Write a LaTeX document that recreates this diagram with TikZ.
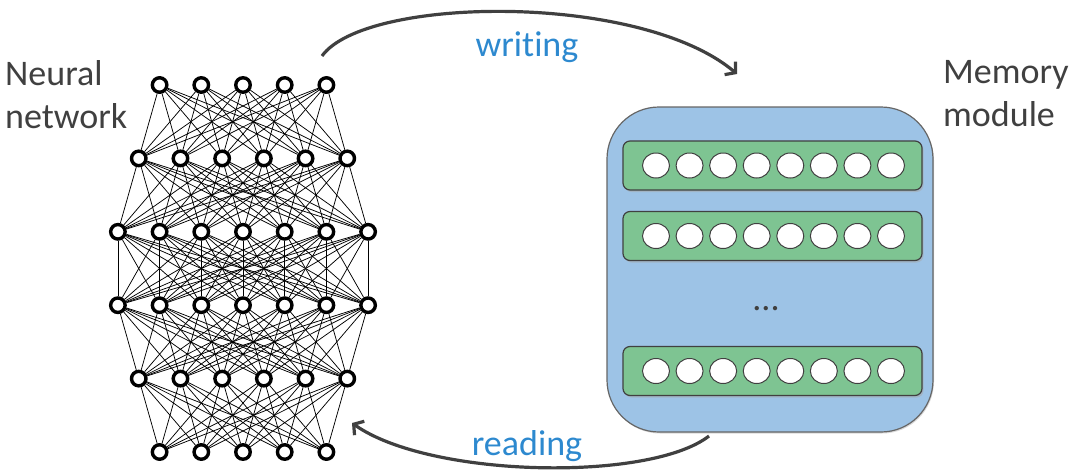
\documentclass[tikz,border=0pt]{standalone}
\usepackage{fontspec}
\setmainfont{Carlito}[Ligatures=NoCommon]
\usetikzlibrary{arrows.meta,shadows,shapes.geometric,positioning}
\definecolor{txtgray}{RGB}{64,64,64}
\definecolor{linkblue}{RGB}{45,137,207}
\definecolor{memblue}{RGB}{157,195,230}
\definecolor{slotgreen}{RGB}{126,196,146}
\tikzset{>={Straight Barb[length=7pt,width=17pt]}}
\tikzset{
    neuron/.style={circle,draw=black,line width=3.4pt,fill=white,minimum size=14.5pt,inner sep=0pt},
    synapse/.style={black,line width=0.75pt},
    membox/.style={rectangle,rounded corners=52pt,draw=txtgray!80,fill=memblue,line width=1.2pt,
        drop shadow={shadow xshift=1pt,shadow yshift=-1.5pt,fill=black!30}},
    slot/.style={rectangle,rounded corners=7pt,draw=txtgray,fill=slotgreen,line width=1.2pt,
        minimum width=299pt,minimum height=49pt,
        drop shadow={shadow xshift=1.5pt,shadow yshift=-2pt,fill=black!35}},
    cell/.style={ellipse,draw=txtgray,fill=white,line width=1pt,minimum width=27pt,minimum height=25pt,inner sep=0pt},
    caption/.style={text=txtgray,font=\fontsize{36}{43}\selectfont,align=left,inner sep=0pt},
    verb/.style={text=linkblue,font=\fontsize{36}{43}\selectfont,inner sep=0pt},
    flow/.style={draw=txtgray,line width=3.2pt}
}

\begin{document}
\begin{tikzpicture}[x=1pt,y=-1pt]
    \useasboundingbox (0,0) rectangle (1086,474);
    % neural network
    \foreach \n [count=\l] in {5,6,7,7,6,5}{
        \foreach \i in {1,...,\n}{
            \node[neuron] (n\l-\i) at ({243-(\n-1)*20.85+(\i-1)*41.7},{85+(\l-1)*73.4}) {};
        }
    }
    \foreach \a/\b/\na/\nb in {1/2/5/6,2/3/6/7,3/4/7/7,4/5/7/6,5/6/6/5}{
        \foreach \i in {1,...,\na}{
            \foreach \j in {1,...,\nb}{
                \draw[synapse] (n\a-\i) -- (n\b-\j);
            }
        }
    }
    \node[caption,anchor=north west] (nnlabel) at (5,60) {Neural\\network};
    % memory module
    \node[membox,minimum width=326pt,minimum height=325pt] (mem) at (770,269.5) {};
    \foreach \r/\y in {1/165.5,2/236,3/371}{
        \node[slot] (row\r) at (772.5,\y) {};
        \foreach \c in {1,...,8}{
            \node[cell] (cell\r-\c) at ({656+(\c-1)*33.57},\y) {};
        }
    }
    \node[text=txtgray,font=\fontsize{36}{43}\selectfont,anchor=base,inner sep=0pt] (dots) at (766,310) {...};
    \node[caption,anchor=north west] (memlabel) at (943,60) {Memory\\module};
    % writing and reading
    \coordinate (wstart) at (322,56);
    \coordinate (wend) at (737,74);
    \coordinate (rstart) at (709,436);
    \coordinate (rend) at (352,423);
    \draw[flow,->] (wstart) .. controls (365,-4) and (640,-8) .. (wend);
    \draw[flow,->] (rstart) .. controls (650,482) and (430,478) .. (rend);
    \node[verb,anchor=base] (wlabel) at (527,56) {writing};
    \node[verb,anchor=base] (rlabel) at (527,455) {reading};
\end{tikzpicture}
\end{document}
